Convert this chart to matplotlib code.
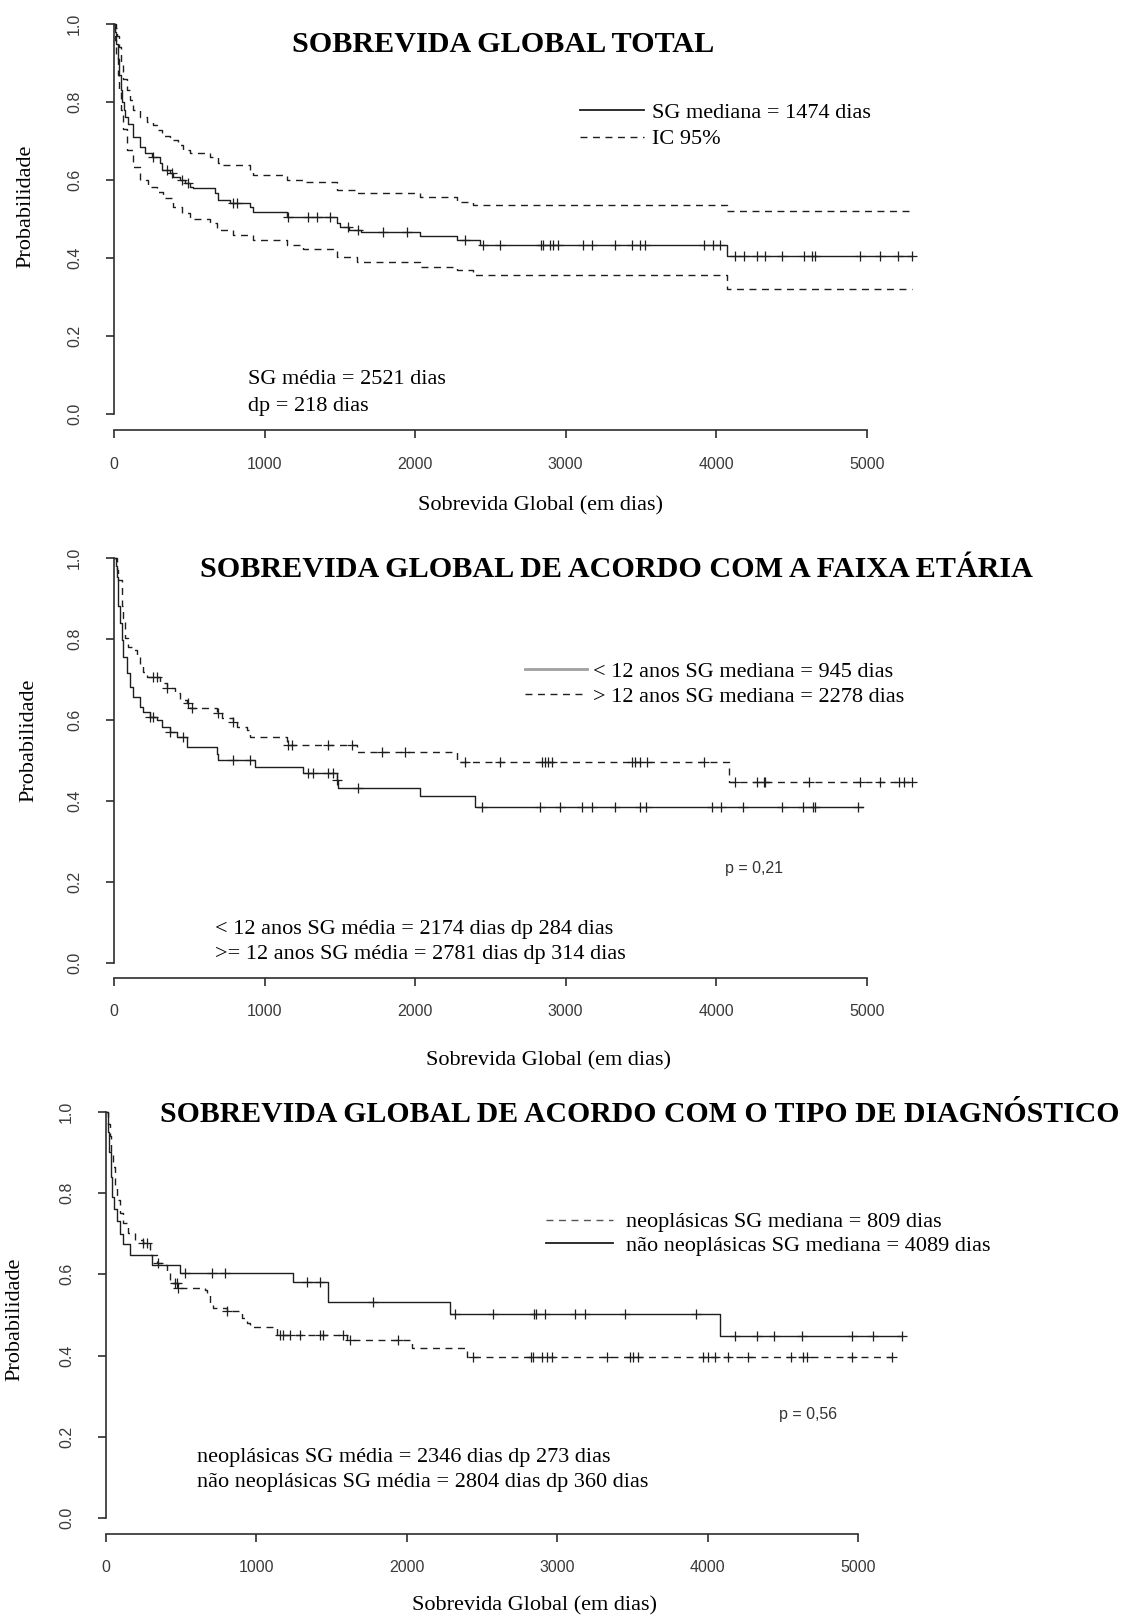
import numpy as np
import matplotlib.pyplot as plt
from matplotlib.lines import Line2D

plt.rcParams['font.family'] = ['Liberation Serif', 'DejaVu Serif']

# ---- data (days, survival) ----
# Panel 1: overall survival with 95% CI
p1_time = [0, 8, 15, 25, 35, 45, 55, 65, 75, 95, 128, 173, 206, 250, 306, 317, 372, 394,
           439, 472, 505, 527, 671, 693, 771, 904, 926, 1147, 1480, 1500, 1560, 1640,
           2033, 2277, 2432, 4071]
p1_surv = [1.0, 0.98, 0.95, 0.91, 0.87, 0.83, 0.80, 0.78, 0.762, 0.745, 0.711, 0.686,
           0.669, 0.660, 0.643, 0.626, 0.617, 0.609, 0.600, 0.592, 0.583, 0.579, 0.566,
           0.549, 0.542, 0.532, 0.519, 0.506, 0.49, 0.48, 0.472, 0.468, 0.457, 0.447,
           0.434, 0.406]
p1_up_time = [0, 10, 20, 30, 45, 60, 84, 106, 128, 173, 217, 261, 295, 317, 372, 428, 461,
              505, 638, 693, 726, 904, 926, 1147, 1258, 1480, 1613, 2033, 2277, 2388, 4071]
p1_up_surv = [1.0, 0.99, 0.97, 0.94, 0.90, 0.86, 0.831, 0.805, 0.780, 0.762, 0.750, 0.741,
              0.729, 0.712, 0.703, 0.690, 0.677, 0.669, 0.660, 0.643, 0.639, 0.626, 0.613,
              0.600, 0.596, 0.575, 0.568, 0.557, 0.545, 0.536, 0.522]
p1_lo_time = [0, 8, 15, 25, 35, 45, 60, 84, 128, 173, 228, 284, 328, 394, 450, 505, 638,
              682, 793, 926, 1147, 1258, 1480, 1613, 2033, 2277, 2388, 4071]
p1_lo_surv = [1.0, 0.96, 0.92, 0.87, 0.83, 0.78, 0.73, 0.677, 0.634, 0.600, 0.583, 0.570,
              0.553, 0.532, 0.515, 0.500, 0.490, 0.472, 0.459, 0.447, 0.434, 0.423, 0.404,
              0.389, 0.378, 0.370, 0.357, 0.320]
p1_end = 5300
p1_cens = [261, 350, 383, 450, 494, 793, 815, 1158, 1291, 1347, 1435, 1557, 1623, 1789,
           1945, 2332, 2454, 2565, 2837, 2848, 2897, 2915, 2952, 3114, 3174, 3329, 3440,
           3491, 3528, 3920, 3976, 4027, 4126, 4182, 4270, 4326, 4436, 4581, 4636, 4658,
           4953, 5090, 5211, 5300]

# Panel 2: by age group
p2_old_time = [0, 20, 29, 51, 62, 73, 95, 128, 151, 173, 195, 220, 306, 350, 406, 439, 483,
               505, 682, 715, 793, 815, 882, 904, 1147, 1612, 2277, 4082]
p2_old_surv = [1.0, 0.97, 0.946, 0.881, 0.852, 0.802, 0.782, 0.774, 0.761, 0.737, 0.720,
               0.708, 0.692, 0.679, 0.667, 0.650, 0.642, 0.630, 0.617, 0.605, 0.597, 0.584,
               0.576, 0.560, 0.539, 0.521, 0.498, 0.448]
p2_old_end = 5300
p2_old_cens = [261, 284, 350, 494, 516, 693, 793, 1158, 1180, 1424, 1579, 1778, 1934, 2332,
               2565, 2841, 2863, 2885, 2907, 3439, 3461, 3494, 3538, 3919, 4126, 4270,
               4315, 4326, 4614, 4957, 5090, 5212, 5245, 5300]
p2_young_time = [0, 10, 18, 29, 40, 51, 62, 84, 106, 128, 173, 195, 239, 284, 317, 372, 417,
                 483, 682, 693, 937, 1258, 1480, 1491, 2033, 2399]
p2_young_surv = [1.0, 0.98, 0.955, 0.881, 0.840, 0.799, 0.757, 0.716, 0.683, 0.658, 0.634,
                 0.621, 0.609, 0.601, 0.584, 0.572, 0.560, 0.535, 0.518, 0.502, 0.485,
                 0.469, 0.453, 0.432, 0.412, 0.387]
p2_young_end = 4978
p2_young_cens = [239, 261, 372, 461, 793, 904, 1291, 1324, 1424, 1457, 1480, 1624, 2443,
                 2831, 2960, 3108, 3175, 3330, 3494, 3532, 3975, 4030, 4181, 4436, 4580,
                 4642, 4657, 4945]

# Panel 3: by diagnosis type
p3_neo_time = [0, 15, 25, 35, 46, 60, 71, 93, 115, 148, 193, 248, 292, 337, 370, 403, 425,
               447, 481, 658, 669, 691, 713, 802, 901, 935, 957, 1134, 1599, 2031, 2396]
p3_neo_surv = [1.0, 0.97, 0.94, 0.90, 0.865, 0.82, 0.783, 0.750, 0.726, 0.701, 0.685, 0.676,
               0.648, 0.627, 0.623, 0.607, 0.587, 0.578, 0.566, 0.562, 0.549, 0.529, 0.517,
               0.509, 0.492, 0.480, 0.470, 0.451, 0.439, 0.418, 0.397]
p3_neo_end = 5221
p3_neo_cens = [248, 270, 348, 458, 469, 481, 802, 1156, 1178, 1223, 1289, 1422, 1444, 1577,
               1621, 1943, 2441, 2822, 2840, 2901, 2928, 2961, 3327, 3482, 3504, 3537, 3970,
               4003, 4047, 4136, 4269, 4556, 4634, 4656, 4955, 5221]
p3_non_time = [0, 10, 20, 30, 40, 55, 70, 90, 115, 160, 303, 492, 1245, 1477, 2286, 4080]
p3_non_surv = [1.0, 0.95, 0.90, 0.84, 0.79, 0.76, 0.73, 0.70, 0.675, 0.648, 0.623, 0.603,
               0.582, 0.533, 0.503, 0.448]
p3_non_end = 5293
p3_non_cens = [525, 702, 791, 1333, 1422, 1777, 2319, 2569, 2846, 2861, 2917, 3116, 3183,
               3448, 3924, 4180, 4328, 4439, 4623, 4961, 5098, 5293]

x_ticks = [0, 1000, 2000, 3000, 4000, 5000]
y_ticks = [0.0, 0.2, 0.4, 0.6, 0.8, 1.0]

# ---- layout helpers ----
W, H = 1127, 1616
SERIF = 'Liberation Serif'
SANS = 'Liberation Sans'
INK = '#1e1e1e'
AXC = '#2e2e2e'
TXT = 16
DASH = (0, (5, 4))

fig = plt.figure(figsize=(W / 100, H / 100), dpi=100)


def surv_at(times, surv, t):
    idx = np.searchsorted(times, t, side='right') - 1
    return np.asarray(surv)[idx]


def km(ax, times, surv, t_end, cens, dashed=False, color=INK):
    t = list(times) + [t_end]
    s = list(surv) + [surv[-1]]
    ax.step(t, s, where='post', color=color, lw=1.0,
            linestyle=DASH if dashed else '-')
    ax.plot(cens, surv_at(times, surv, cens), linestyle='none', marker='+',
            ms=7, mew=0.9, color=color)


def panel(x0, x5000, y0, y1, xaxis_p):
    # pixel positions of day 0 / day 5000 and prob 0 / prob 1
    kx = (x5000 - x0) / 5000
    ky = y0 - y1
    xlim = (-150, 5500)
    ylim = (-0.08, 1.05)
    left = x0 + xlim[0] * kx
    right = x0 + xlim[1] * kx
    top = y0 - ylim[1] * ky
    bottom = y0 - ylim[0] * ky
    ax = fig.add_axes([left / W, 1 - bottom / H, (right - left) / W, (bottom - top) / H])
    ax.set_xlim(xlim)
    ax.set_ylim(ylim)
    ax.patch.set_visible(False)
    for side in ['top', 'right']:
        ax.spines[side].set_visible(False)
    ax.spines['left'].set_position(('data', 0))
    ax.spines['left'].set_bounds(0, 1)
    ax.spines['bottom'].set_position(('data', xaxis_p))
    ax.spines['bottom'].set_bounds(0, 5000)
    for side in ['left', 'bottom']:
        ax.spines[side].set_linewidth(1.2)
        ax.spines[side].set_color(AXC)
    ax.set_xticks(x_ticks)
    ax.set_xticklabels([str(v) for v in x_ticks], family=SANS, fontsize=11.5, color='#3a3a3a')
    ax.set_yticks(y_ticks)
    ax.set_yticklabels(['%.1f' % v for v in y_ticks], family=SANS, fontsize=11.5,
                       color='#3a3a3a', rotation=90, va='center')
    ax.tick_params(axis='x', length=6, width=1.2, color=AXC, pad=13)
    ax.tick_params(axis='y', length=6, width=1.2, color=AXC, pad=17)
    return ax


def ftext(x, y, s, **kw):
    kw.setdefault('family', SERIF)
    kw.setdefault('fontsize', TXT)
    kw.setdefault('va', 'baseline')
    fig.text(x / W, 1 - y / H, s, **kw)


def legend(ax, handles, labels, x, y, hlen, hpad, spacing):
    ax.legend(handles, labels, loc='center left', bbox_to_anchor=(x / W, 1 - y / H),
              bbox_transform=fig.transFigure, frameon=False, prop={'family': SERIF, 'size': TXT},
              handlelength=hlen, handletextpad=hpad, borderpad=0, borderaxespad=0,
              labelspacing=spacing)


# ---- panel 1 ----
ax1 = panel(114, 866.7, 414.3, 24, -0.041)
km(ax1, p1_time, p1_surv, p1_end, p1_cens)
ax1.step(p1_up_time + [p1_end], p1_up_surv + [p1_up_surv[-1]], where='post', color=INK,
         lw=1.0, linestyle=DASH)
ax1.step(p1_lo_time + [p1_end], p1_lo_surv + [p1_lo_surv[-1]], where='post', color=INK,
         lw=1.0, linestyle=DASH)
legend(ax1, [Line2D([], [], color=INK, lw=1.3), Line2D([], [], color=INK, lw=1.0, linestyle=DASH)],
       ['SG mediana = 1474 dias', 'IC 95%'], 580, 126, 2.9, 0.32, 0.25)
ftext(503, 52, 'SOBREVIDA GLOBAL TOTAL', ha='center', fontsize=21.7, fontweight='bold')
ftext(248, 384, 'SG média = 2521 dias')
ftext(248, 411, 'dp = 218 dias')
ftext(541, 510, 'Sobrevida Global (em dias)', ha='center')
ftext(26, 206, 'Probabilidade', ha='center', va='center', rotation=90)

# ---- panel 2 ----
ax2 = panel(114, 866.7, 963.3, 558.3, -0.036)
km(ax2, p2_old_time, p2_old_surv, p2_old_end, p2_old_cens, dashed=True)
km(ax2, p2_young_time, p2_young_surv, p2_young_end, p2_young_cens)
legend(ax2, [Line2D([], [], color='#a0a0a0', lw=2.0), Line2D([], [], color=INK, lw=1.0, linestyle=DASH)],
       ['< 12 anos SG mediana = 945 dias', '> 12 anos SG mediana = 2278 dias'], 525, 684, 2.8, 0.25, 0.2)
ftext(616, 577, 'SOBREVIDA GLOBAL DE ACORDO COM A FAIXA ETÁRIA', ha='center',
      fontsize=21.7, fontweight='bold')
ftext(754, 868, 'p = 0,21', family=SANS, fontsize=11.5, color='#333333', ha='center', va='center')
ftext(215, 934, '< 12 anos SG média = 2174 dias dp 284 dias')
ftext(215, 959, '>= 12 anos SG média = 2781 dias dp 314 dias')
ftext(548, 1065, 'Sobrevida Global (em dias)', ha='center')
ftext(29, 740, 'Probabilidade', ha='center', va='center', rotation=90)

# ---- panel 3 ----
ax3 = panel(106, 858.3, 1518.3, 1111.7, -0.038)
km(ax3, p3_neo_time, p3_neo_surv, p3_neo_end, p3_neo_cens, dashed=True)
km(ax3, p3_non_time, p3_non_surv, p3_non_end, p3_non_cens)
legend(ax3, [Line2D([], [], color='#555555', lw=1.0, linestyle=DASH), Line2D([], [], color=INK, lw=1.3)],
       ['neoplásicas SG mediana = 809 dias', 'não neoplásicas SG mediana = 4089 dias'], 546, 1234,
       3.0, 0.6, 0.15)
ftext(640, 1122, 'SOBREVIDA GLOBAL DE ACORDO COM O TIPO DE DIAGNÓSTICO', ha='center',
      fontsize=21.4, fontweight='bold')
ftext(808, 1415, 'p = 0,56', family=SANS, fontsize=11.5, color='#333333', ha='center', va='center')
ftext(197, 1462, 'neoplásicas SG média = 2346 dias dp 273 dias')
ftext(197, 1487, 'não neoplásicas SG média = 2804 dias dp 360 dias')
ftext(534, 1610, 'Sobrevida Global (em dias)', ha='center')
ftext(15, 1319, 'Probabilidade', ha='center', va='center', rotation=90)

fig.savefig('out.png', dpi=100)
